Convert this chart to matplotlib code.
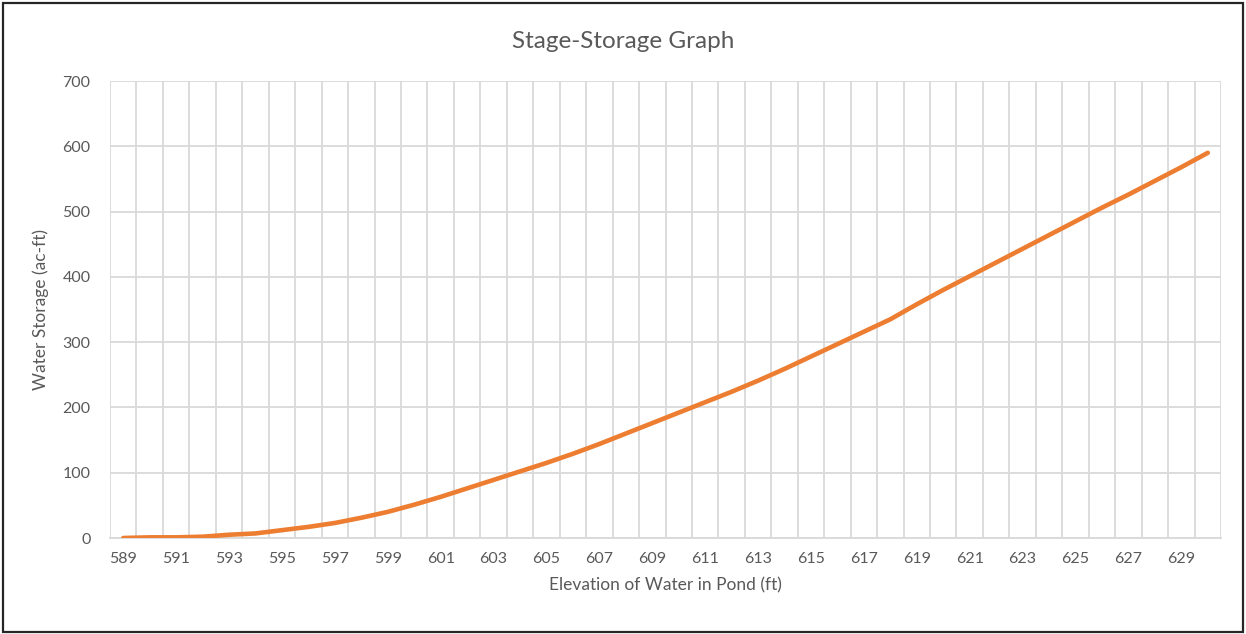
import numpy as np
import matplotlib
matplotlib.use("Agg")
import matplotlib.pyplot as plt
from matplotlib.patches import Rectangle

# elevation categories (ft) and storage (ac-ft)
elevation = list(range(589, 631))
storage = [0, 1, 1, 2, 5, 7, 12, 17, 23, 31,
           40, 51, 63, 76, 89, 102, 115, 129, 144, 160,
           176, 192, 208, 224, 241, 259, 278, 297, 316, 335,
           358, 380, 401, 422, 443, 464, 485, 506, 526, 547,
           568, 590]

plt.rcParams['font.family'] = ['Lato', 'DejaVu Sans']
text_col = '#595959'
grid_col = '#d9d9d9'

fig = plt.figure(figsize=(12.46, 6.34), dpi=100)
ax = fig.add_axes([110 / 1246, 1 - 538 / 634, 1111 / 1246, 457 / 634])

x = np.arange(len(elevation))
ax.plot(x, storage, color='#ED7D31', lw=3.3, solid_capstyle='round',
        solid_joinstyle='round', zorder=3)

ax.set_xlim(-0.5, len(elevation) - 0.5)
ax.set_ylim(0, 700)
ax.set_yticks(range(0, 701, 100))
ax.set_xticks(x[::2])
ax.set_xticklabels([str(e) for e in elevation[::2]])
ax.set_xticks(np.arange(-0.5, len(elevation), 1), minor=True)

ax.grid(True, which='minor', axis='x', color=grid_col, lw=1.3)
ax.grid(True, which='major', axis='y', color=grid_col, lw=1.3)
ax.grid(False, which='major', axis='x')
ax.tick_params(which='both', length=0, colors=text_col, labelsize=11.5)
ax.tick_params(axis='x', pad=10)
ax.tick_params(axis='y', pad=14)
for s in ['left', 'top', 'right']:
    ax.spines[s].set_visible(False)
ax.spines['bottom'].set_color(grid_col)
ax.spines['bottom'].set_linewidth(1.3)
ax.set_axisbelow(True)

ax.set_xlabel('Elevation of Water in Pond (ft)', color=text_col, fontsize=12.5, labelpad=8)
ax.set_ylabel('Water Storage (ac-ft)', color=text_col, fontsize=12.5, labelpad=10)
fig.text(0.5, 1 - 41 / 634, 'Stage-Storage Graph', ha='center', va='center',
         color=text_col, fontsize=17.5)

fig.patches.append(Rectangle((3 / 1246, 2 / 634), 1240 / 1246, 629 / 634,
                             transform=fig.transFigure, fill=False,
                             edgecolor='#262626', lw=1.6))

fig.savefig('out.png', dpi=100)
